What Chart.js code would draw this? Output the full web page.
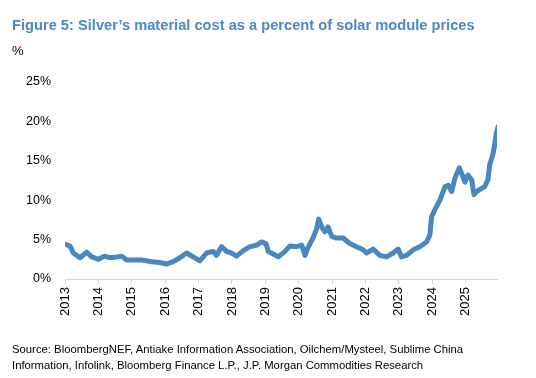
<!DOCTYPE html>
<html>
<head>
<meta charset="utf-8">
<script src="https://cdn.jsdelivr.net/npm/chart.js@4"></script>
<style>
  html, body { margin:0; padding:0; background:#fff; }
  body { width:536px; height:378px; position:relative; overflow:hidden; font-family:"Liberation Sans", Arial, sans-serif; }
  #title { position:absolute; left:12px; top:16px; font-size:15.2px; font-weight:bold; color:#4A88C6; white-space:nowrap; transform-origin:0 0; transform:scaleX(0.965); }
  #unit { position:absolute; left:12px; top:43px; font-size:13px; color:#000; }
  #source { position:absolute; left:12px; top:341px; font-size:11.5px; line-height:16px; color:#000; white-space:nowrap; transform-origin:0 0; transform:scaleX(0.983); }
  #wrap { position:absolute; left:0; top:0; width:536px; height:378px; }
</style>
</head>
<body>
<div id="wrap"><canvas id="c" width="536" height="378"></canvas></div>
<div id="title">Figure 5: Silver’s material cost as a percent of solar module prices</div>
<div id="unit">%</div>
<div id="source">Source: BloombergNEF, Antiake Information Association, Oilchem/Mysteel, Sublime China<br>Information, Infolink, Bloomberg Finance L.P., J.P. Morgan Commodities Research</div>
<script>
// Dates as decimal years
const dates = [2013.00,2013.15,2013.25,2013.45,2013.65,2013.80,2014.00,2014.18,2014.35,2014.55,2014.70,2014.85,
  2015.05,2015.30,2015.60,2015.84,2016.04,2016.24,2016.44,2016.64,2016.84,2017.04,2017.24,2017.44,2017.54,2017.69,
  2017.84,2017.99,2018.14,2018.34,2018.54,2018.74,2018.89,2019.02,2019.09,2019.14,2019.39,2019.59,2019.74,2019.94,
  2020.09,2020.19,2020.28,2020.43,2020.54,2020.60,2020.69,2020.78,2020.88,2020.99,2021.13,2021.33,2021.53,2021.73,
  2021.93,2022.03,2022.23,2022.43,2022.63,2022.83,2022.98,2023.08,2023.23,2023.43,2023.63,2023.83,2023.93,2023.98,
  2024.08,2024.23,2024.38,2024.48,2024.58,2024.68,2024.81,2024.88,2024.98,2025.07,2025.18,2025.25,2025.33,2025.48,
  2025.57,2025.67,2025.72,2025.78,2025.82,2025.87,2025.92,2025.97];
// Silver cost as % of module price
const silverShare = [4.4,4.2,3.3,2.7,3.4,2.8,2.5,2.9,2.7,2.8,2.9,2.4,
  2.4,2.4,2.2,2.1,1.9,2.2,2.7,3.3,2.8,2.3,3.3,3.5,3.0,4.1,
  3.5,3.3,2.9,3.6,4.1,4.3,4.7,4.5,3.5,3.4,2.8,3.5,4.2,4.1,
  4.3,3.0,4.0,5.2,6.4,7.6,6.6,6.0,6.6,5.4,5.2,5.2,4.5,4.1,
  3.7,3.3,3.8,3.0,2.8,3.3,3.8,2.8,3.0,3.7,4.1,4.7,5.6,7.9,
  8.8,10.0,11.7,11.9,11.1,12.8,14.1,13.4,12.3,13.2,12.6,10.7,11.1,11.5,
  11.7,12.6,14.5,15.3,15.9,17.0,18.5,19.3];
const yearTicks = [2013,2014,2015,2016,2017,2018,2019,2020,2021,2022,2023,2024,2025];
const pctTicks = [0,5,10,15,20,25];

const points = dates.map((d, i) => ({ x: d, y: silverShare[i] }));

new Chart(document.getElementById('c'), {
  type: 'line',
  data: { datasets: [{
    data: points,
    borderColor: '#4A86BF',
    borderWidth: 5,
    pointRadius: 0,
    tension: 0,
    fill: false,
    borderJoinStyle: 'round',
    borderCapStyle: 'round'
  }]},
  options: {
    responsive: false,
    animation: false,
    events: [],
    layout: { padding: { left: 0, right: 39, top: 82, bottom: 0 } },
    plugins: { legend: { display: false }, tooltip: { enabled: false } },
    scales: {
      x: {
        type: 'linear',
        min: 2013, max: 2025.94,
        afterFit: s => { s.height = 99; },
        afterBuildTicks: s => { s.ticks = yearTicks.map(v => ({ value: v })); },
        grid: { display: true, drawOnChartArea: false, drawTicks: true, tickLength: 5, color: '#d4d4d4', lineWidth: 1 },
        border: { display: true, color: '#d4d4d4', width: 1 },
        ticks: {
          minRotation: 90, maxRotation: 90, padding: 3,
          color: '#000', font: { family: 'Liberation Sans', size: 13 },
          callback: v => String(v)
        }
      },
      y: {
        min: 0, max: 25,
        afterFit: s => { s.width = 65; },
        afterBuildTicks: s => { s.ticks = pctTicks.map(v => ({ value: v })); },
        grid: { display: false, drawTicks: false },
        border: { display: false },
        ticks: {
          padding: 14,
          color: '#000', font: { family: 'Liberation Sans', size: 12.5 },
          callback: v => v + '%'
        }
      }
    }
  }
});
</script>
</body>
</html>
